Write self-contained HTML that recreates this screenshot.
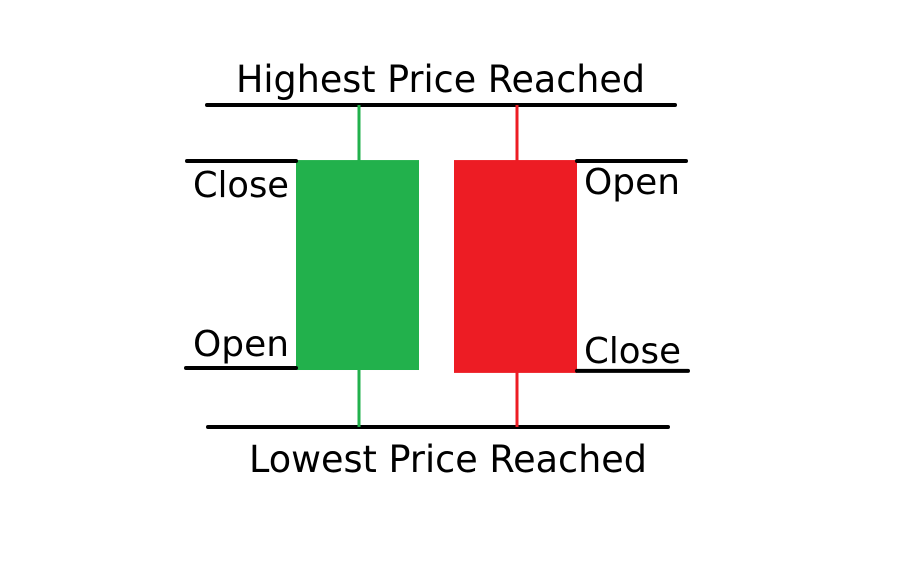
<!DOCTYPE html>
<html><head><meta charset="utf-8"><style>
html,body{margin:0;padding:0;background:#fff;}
svg{display:block;}
text{font-family:"DejaVu Sans","Liberation Sans",sans-serif;fill:#000;}
</style></head><body>
<svg id="chart" width="904" height="561" viewBox="0 0 904 561" xmlns="http://www.w3.org/2000/svg">
<rect width="904" height="561" fill="#fff"/>
<text x="236" y="92" font-size="37" textLength="409" lengthAdjust="spacingAndGlyphs">Highest Price Reached</text>
<text x="249" y="472" font-size="37" textLength="398" lengthAdjust="spacingAndGlyphs">Lowest Price Reached</text>
<text x="193" y="197" font-size="36" textLength="96" lengthAdjust="spacingAndGlyphs">Close</text>
<text x="193" y="356" font-size="36" textLength="96" lengthAdjust="spacingAndGlyphs">Open</text>
<text x="584" y="194" font-size="36" textLength="96" lengthAdjust="spacingAndGlyphs">Open</text>
<text x="584" y="363" font-size="36" textLength="97" lengthAdjust="spacingAndGlyphs">Close</text>
<g id="marks"></g>
</svg>
<script>
var candleNames = ["bullish", "bearish"];
var opens = [17.7, 82.9];
var closes = [82.9, 16.8];
var highs = [100, 100];
var lows = [0, 0];
var colors = ["#22b14c", "#ed1c24"];

function yScale(v){ return 427 - v * 3.22; }
function xCenter(i){ return 357 + i * 158; }
var bodyW = 123;
var ns = "http://www.w3.org/2000/svg";
var g = document.getElementById("marks");
function mk(tag, attrs){
  var e = document.createElementNS(ns, tag);
  for (var k in attrs) e.setAttribute(k, attrs[k]);
  g.appendChild(e);
  return e;
}
var hl = mk("line", {x1:207, x2:675, y1:yScale(100), y2:yScale(100), stroke:"#000", "stroke-width":4, "stroke-linecap":"round"});


var ll = mk("line", {x1:208, x2:668, y1:yScale(0), y2:yScale(0), stroke:"#000", "stroke-width":4, "stroke-linecap":"round"});


for (var i = 0; i < candleNames.length; i++) {
  var cx = xCenter(i);
  var wk = mk("line", {x1:cx+2, x2:cx+2, y1:yScale(highs[i]), y2:yScale(lows[i]), stroke:colors[i], "stroke-width":3});
  
  
  var bTop = yScale(Math.max(opens[i], closes[i]));
  var bBot = yScale(Math.min(opens[i], closes[i]));
  var b = mk("rect", {x:cx - 61, y:bTop, width:bodyW, height:bBot - bTop, fill:colors[i]});
  
  
  var x1 = i === 0 ? 187 : cx + 62;
  var x2 = i === 0 ? cx - 61 : 686;
  var t1 = mk("line", {x1:x1, x2:x2, y1:bTop+1, y2:bTop+1, stroke:"#000", "stroke-width":4, "stroke-linecap":"round"});
  
  
  var t2 = mk("line", {x1:i===0?186:x1, x2:i===0?x2:688, y1:bBot-2, y2:bBot-2, stroke:"#000", "stroke-width":4, "stroke-linecap":"round"});
  
  
}
</script>
</body></html>
